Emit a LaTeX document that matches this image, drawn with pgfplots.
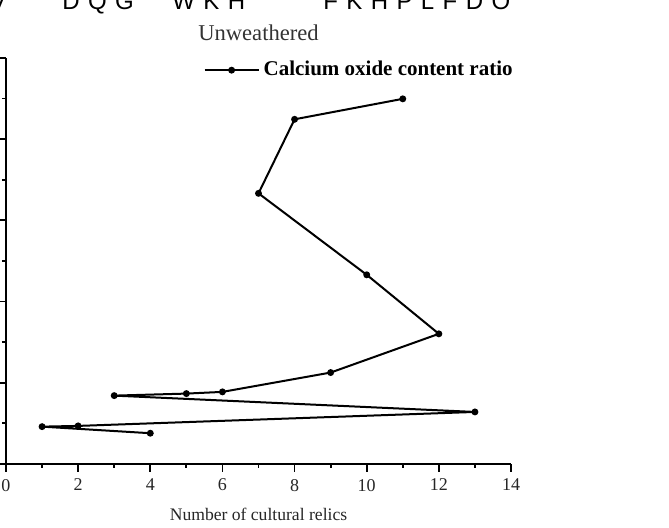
\documentclass[border=0pt]{standalone}
\usepackage{fontspec}
\setmainfont{Liberation Serif}
\newfontfamily\garbled[LetterSpace=35]{Liberation Sans}
\usepackage{pgfplots}
\pgfplotsset{compat=1.18}
\usetikzlibrary{calc}

\begin{document}
\begin{tikzpicture}
\begin{axis}[
  name=ax,
  at={(0,0)}, anchor=south west,
  scale only axis,
  width=252.5pt, height=203pt,
  xmin=0, xmax=14, ymin=0, ymax=5,
  axis lines*=left,
  axis line style={-, line width=1pt},
  xtick={0,2,...,14},
  minor x tick num=1,
  ytick={0,1,...,5},
  yticklabels={},
  minor y tick num=1,
  tick align=outside,
  major tick length=4pt,
  minor tick length=2pt,
  every tick/.style={black, line width=0.9pt},
  /pgf/number format/assume math mode=true,
  tick label style={font=\fontsize{9}{10}\selectfont, color=black!85},
  xlabel={Number of cultural relics},
  xlabel style={at={(axis description cs:0.5,-0.1404)}, anchor=base,
    font=\fontsize{8.8}{10}\selectfont, color=black!85},
  every axis title shift=0pt,
  title={Unweathered},
  title style={at={(axis description cs:0.5,1.0443)}, anchor=base,
    font=\fontsize{11.3}{13}\selectfont, color=black!80},
  legend style={at={(axis description cs:1.012,0.97)}, anchor=east,
    draw=none, fill=none, inner sep=0pt,
    font=\bfseries\fontsize{10.5}{12}\selectfont},
  legend image code/.code={%
    \draw[mark repeat=2, mark phase=2, #1]
      plot coordinates {(0pt,0pt) (13.5pt,0pt) (27pt,0pt)};},
]
% calcium oxide content ratio, points joined in order of the ratio
\addplot[black, line width=1pt, mark=*, mark size=1.2pt] coordinates {
  (4,0.379)
  (1,0.460)
  (2,0.469)
  (13,0.641)
  (3,0.842)
  (5,0.867)
  (6,0.888)
  (9,1.126)
  (12,1.603)
  (10,2.330)
  (7,3.333)
  (8,4.245)
  (11,4.497)
};
\addlegendentry{Calcium oxide content ratio}
\end{axis}
% caption text above the crop, with its broken font encoding
\begin{scope}[every node/.style={anchor=base west, inner sep=0pt,
    font=\garbled\fontsize{12}{14}\selectfont}]
\node at ($(ax.south west)+(-8pt,227.25pt)$) {V};
\node at ($(ax.south west)+(28pt,227.25pt)$) {DQG};
\node at ($(ax.south west)+(83pt,227.25pt)$) {WKH};
\node at ($(ax.south west)+(158.5pt,227.25pt)$) {FKHPLFDO};
\end{scope}
\pgfresetboundingbox
\path[use as bounding box] ($(ax.south west)+(-3pt,-32pt)$) rectangle ($(ax.south west)+(331.5pt,232pt)$);
\end{tikzpicture}
\end{document}
